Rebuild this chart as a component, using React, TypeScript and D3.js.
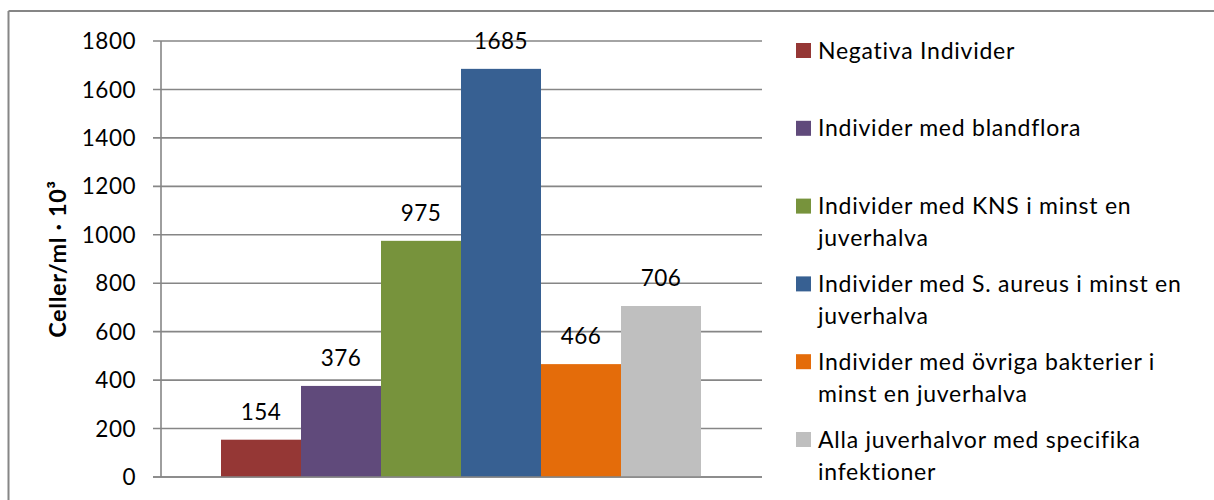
import React from "react";
import * as d3 from "d3";

const categories = [
  "Negativa Individer",
  "Individer med blandflora",
  "Individer med KNS i minst en juverhalva",
  "Individer med S. aureus i minst en juverhalva",
  "Individer med övriga bakterier i minst en juverhalva",
  "Alla juverhalvor med specifika infektioner",
];
const legendLines = [
  ["Negativa Individer"],
  ["Individer med blandflora"],
  ["Individer med KNS i minst en", "juverhalva"],
  ["Individer med S. aureus i minst en", "juverhalva"],
  ["Individer med övriga bakterier i", "minst en juverhalva"],
  ["Alla juverhalvor med specifika", "infektioner"],
];
const values = [154, 376, 975, 1685, 466, 706];
const colors = ["#953735", "#604A7B", "#77933C", "#376092", "#E46C0A", "#BFBFBF"];
const yTicks = [0, 200, 400, 600, 800, 1000, 1200, 1400, 1600, 1800];

const W = 1214;
const H = 500;
const plot = { left: 161, right: 762, top: 41, bottom: 477 };
const font = "Lato, 'Open Sans', sans-serif";
const grid = "#868686";
const textStyle = { fontVariantLigatures: "none" as const };

export default function App() {
  const y = d3.scaleLinear().domain([0, 1800]).range([plot.bottom, plot.top]);
  const x = d3
    .scaleBand<string>()
    .domain(categories)
    .range([plot.left + 60, plot.right - 61]);

  return (
    <svg
      width={W}
      height={H}
      style={{ position: "absolute", left: 0, top: 0, background: "#fff" }}
    >
      {/* chart frame */}
      <line x1={8.5} x2={W} y1={11} y2={11} stroke={grid} strokeWidth={2} />
      <line x1={8.5} x2={8.5} y1={11} y2={H} stroke={grid} strokeWidth={2} />

      {/* gridlines and y ticks */}
      {yTicks.map((t) => (
        <g key={t}>
          <line
            x1={plot.left - 8}
            x2={plot.right}
            y1={y(t)}
            y2={y(t)}
            stroke={grid}
            strokeWidth={1.6}
          />
          <text
            x={plot.left - 25}
            y={y(t)}
            dy="0.36em"
            textAnchor="end"
            fontFamily={font}
            fontSize={22.5}
            letterSpacing={0.5}
            style={textStyle}
            fill="#000"
          >
            {t}
          </text>
        </g>
      ))}
      <line
        x1={plot.left}
        x2={plot.left}
        y1={plot.top}
        y2={plot.bottom}
        stroke={grid}
        strokeWidth={1.6}
      />

      {/* bars and value labels */}
      {categories.map((c, i) => (
        <g key={c}>
          <rect
            x={x(c)}
            y={y(values[i])}
            width={x.bandwidth()}
            height={y(0) - y(values[i])}
            fill={colors[i]}
          />
          <text
            x={(x(c) as number) + x.bandwidth() / 2}
            y={y(values[i]) - 20}
            textAnchor="middle"
            fontFamily={font}
            fontSize={22.5}
            letterSpacing={0.5}
            style={textStyle}
            fill="#000"
          >
            {values[i]}
          </text>
        </g>
      ))}
      {/* baseline drawn over the bars */}
      <line
        x1={plot.left - 8}
        x2={plot.right}
        y1={y(0)}
        y2={y(0)}
        stroke={grid}
        strokeWidth={1.6}
      />

      {/* y axis title */}
      <text
        transform={`translate(66,${(plot.top + plot.bottom) / 2}) rotate(-90)`}
        textAnchor="middle"
        fontFamily={font}
        fontWeight="bold"
        fontSize={23.5}
        letterSpacing={0.6}
        style={textStyle}
        fill="#000"
      >
        Celler/ml · 10³
      </text>

      {/* legend */}
      {legendLines.map((lines, i) => {
        const cy = 50.5 + i * 77.8;
        return (
          <g key={i}>
            <rect x={796} y={cy - 7.5} width={15} height={15} fill={colors[i]} />
            {lines.map((ln, j) => (
              <text
                key={j}
                x={818}
                y={cy + 8 + j * 32}
                fontFamily={font}
                fontSize={23}
                letterSpacing={0.75}
                style={textStyle}
                fill="#000"
              >
                {ln}
              </text>
            ))}
          </g>
        );
      })}
    </svg>
  );
}
